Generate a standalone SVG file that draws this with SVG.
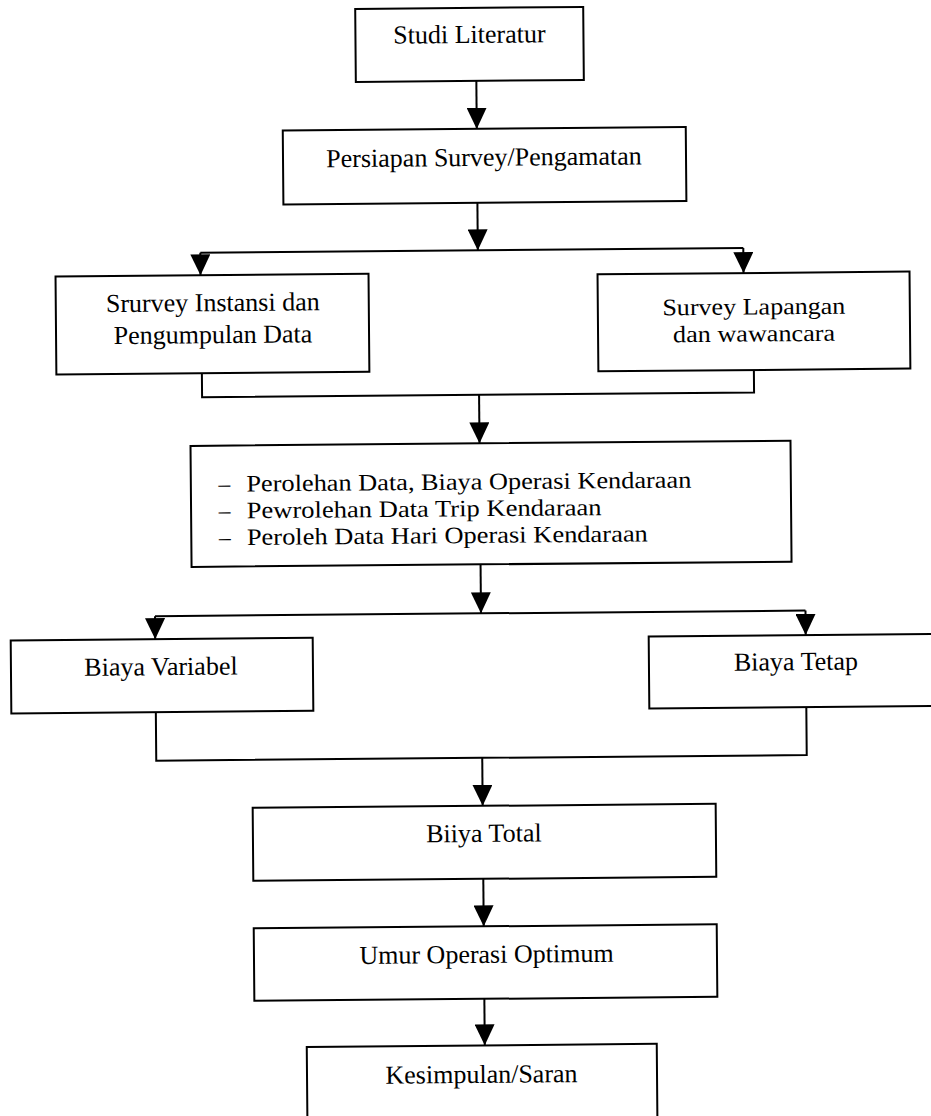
<svg xmlns="http://www.w3.org/2000/svg" width="931" height="1116" viewBox="0 0 931 1116">
<defs>
<style>
.box{fill:#fff;stroke:#000;stroke-width:2}
.lbl{font-family:"Liberation Serif","Times New Roman",serif;font-size:26px;fill:#000}
.sm{font-size:23.5px}
.c{text-anchor:middle}
.conn{fill:none;stroke:#000;stroke-width:2}
</style>
<marker id="ah" markerUnits="userSpaceOnUse" markerWidth="21" markerHeight="20" viewBox="0 0 21 20" refX="21" refY="10" orient="auto">
<path d="M0,0 L21,10 L0,20 Z" fill="#000"/>
</marker>
</defs>
<rect width="931" height="1116" fill="#fff"/>
<g transform="rotate(-0.5 465 558)">
<g id="connectors" class="conn">
<path d="M480.5,81 V129" marker-end="url(#ah)"/>
<path d="M480.5,203 V250.5" marker-end="url(#ah)"/>
<path d="M203,250.5 H746"/>
<path d="M203,250.5 V273" marker-end="url(#ah)"/>
<path d="M746,250.5 V275.5" marker-end="url(#ah)"/>
<path d="M203.5,371 V395 H755.5 V372.5"/>
<path d="M480.5,395 V443.5" marker-end="url(#ah)"/>
<path d="M480.5,564.5 V613.5" marker-end="url(#ah)"/>
<path d="M154.5,613.5 H805"/>
<path d="M154.5,613.5 V636.5" marker-end="url(#ah)"/>
<path d="M805,613.5 V638" marker-end="url(#ah)"/>
<path d="M154.5,709.5 V758 H805 V710"/>
<path d="M480.5,758 V806" marker-end="url(#ah)"/>
<path d="M480.5,879 V926.5" marker-end="url(#ah)"/>
<path d="M480.5,999 V1045.5" marker-end="url(#ah)"/>
</g>
<g id="studi-literatur">
<rect class="box" x="360" y="8" width="228" height="73"/>
<text class="lbl c" x="474" y="43">Studi Literatur</text>
</g>
<g id="persiapan-survey">
<rect class="box" x="286.5" y="129" width="403" height="74"/>
<text class="lbl c" x="487.5" y="166">Persiapan Survey/Pengamatan</text>
</g>
<g id="survey-instansi">
<rect class="box" x="58" y="273" width="313" height="98"/>
<text class="lbl c" x="215" y="309">Srurvey Instansi dan</text>
<text class="lbl c" x="215" y="341">Pengumpulan Data</text>
</g>
<g id="survey-lapangan">
<rect class="box" x="600" y="275.5" width="312" height="97"/>
<text class="lbl sm c" x="756" y="317" textLength="183" lengthAdjust="spacingAndGlyphs">Survey Lapangan</text>
<text class="lbl sm c" x="756" y="344" textLength="162" lengthAdjust="spacingAndGlyphs">dan wawancara</text>
</g>
<g id="perolehan-data">
<rect class="box" x="191.5" y="443.5" width="600" height="121"/>
<text class="lbl sm" x="219" y="489.5">–</text>
<text class="lbl sm" x="247" y="489.5" textLength="445" lengthAdjust="spacingAndGlyphs">Perolehan Data, Biaya Operasi Kendaraan</text>
<text class="lbl sm" x="219" y="516.3">–</text>
<text class="lbl sm" x="247" y="516.3" textLength="355" lengthAdjust="spacingAndGlyphs">Pewrolehan Data Trip Kendaraan</text>
<text class="lbl sm" x="219" y="543">–</text>
<text class="lbl sm" x="247" y="543" textLength="401" lengthAdjust="spacingAndGlyphs">Peroleh Data Hari Operasi Kendaraan</text>
</g>
<g id="biaya-variabel">
<rect class="box" x="10" y="636.5" width="302" height="73"/>
<text class="lbl c" x="160" y="672.5">Biaya Variabel</text>
</g>
<g id="biaya-tetap">
<rect class="box" x="648" y="638" width="300" height="72"/>
<text class="lbl c" x="795" y="673">Biaya Tetap</text>
</g>
<g id="biaya-total">
<rect class="box" x="250.5" y="806" width="463" height="73"/>
<text class="lbl c" x="481.5" y="842">Biiya Total</text>
</g>
<g id="umur-operasi">
<rect class="box" x="250.5" y="926.5" width="463" height="72.5"/>
<text class="lbl c" x="483" y="963">Umur Operasi Optimum</text>
</g>
<g id="kesimpulan">
<rect class="box" x="302.5" y="1045.5" width="350" height="100"/>
<text class="lbl c" x="477" y="1083">Kesimpulan/Saran</text>
</g>
</g>
</svg>
